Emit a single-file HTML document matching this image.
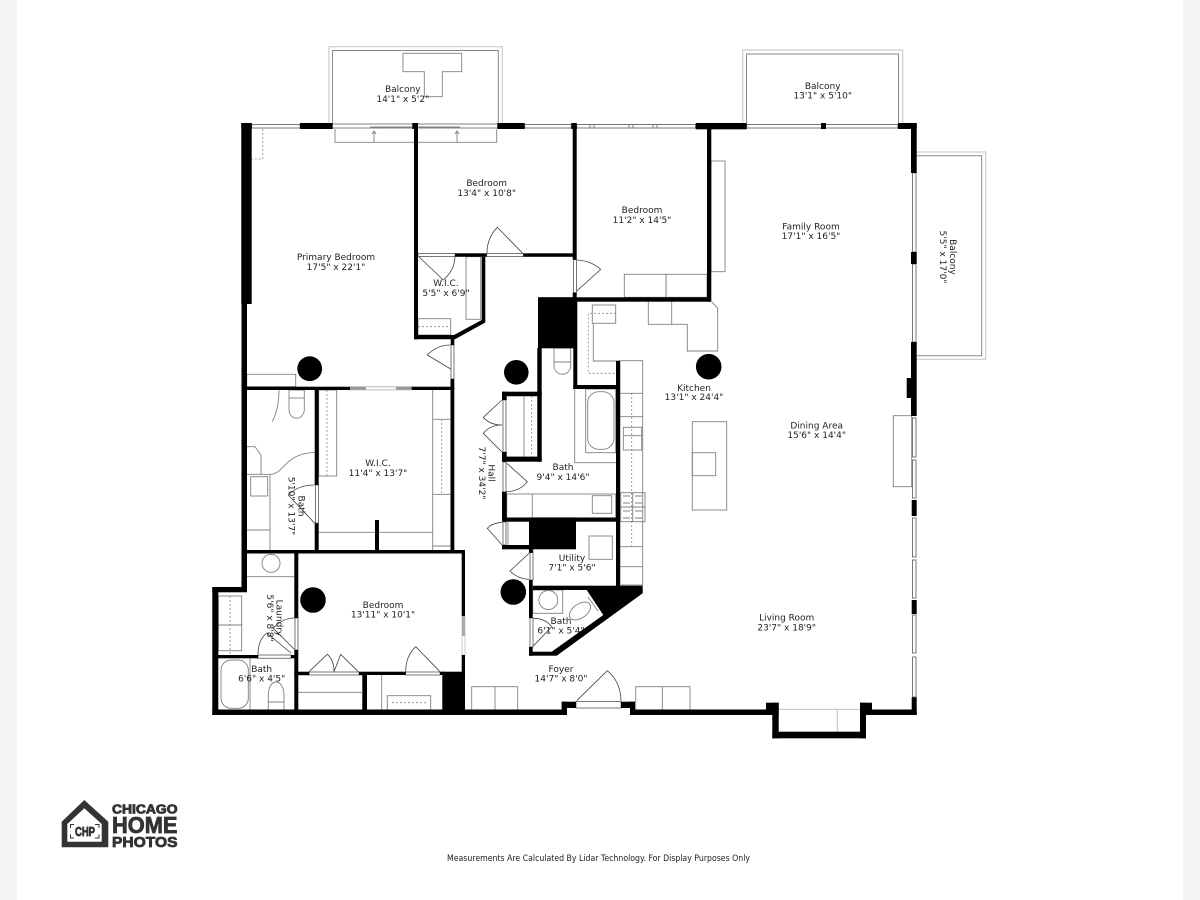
<!DOCTYPE html>
<html><head><meta charset="utf-8"><style>
html,body{margin:0;padding:0;width:1200px;height:900px;background:#fff;overflow:hidden}
svg{display:block}
.t text{font-family:"DejaVu Sans",sans-serif;font-size:9px;fill:#222;text-anchor:middle}
.g{fill:none;stroke:#808080;stroke-width:.9}
.d{fill:none;stroke:#888;stroke-width:.8;stroke-dasharray:2 2}
.l{fill:none;stroke:#444;stroke-width:.8}
</style></head><body>
<svg width="1200" height="900" viewBox="0 0 1200 900" xmlns="http://www.w3.org/2000/svg">
<rect width="1200" height="900" fill="#fff"/>
<rect x="0" y="0" width="17" height="900" fill="#f5f3f6"/>
<rect x="1183" y="0" width="17" height="900" fill="#f5f3f6"/>

<!-- balconies -->
<g fill="none">
<path d="M329 123V46.7H502.3V123" stroke="#ccc" stroke-width="1.2"/>
<path d="M332.5 123V50.5H498.3V123" stroke="#888"/>
<path d="M742.7 123V50H902.7V123" stroke="#ccc" stroke-width="1.2"/>
<path d="M746.5 123V54H898.5V123" stroke="#888"/>
<path d="M916.7 152H985.7V359.3H916.7" stroke="#ccc" stroke-width="1.2"/>
<path d="M916.7 155.7H981.7V355.7H916.7" stroke="#888"/>
</g>
<path class="g" d="M403 53.3H461.7V71.7H442.3V96.7H424.3V71.7H403Z"/>

<!-- furniture / fixtures -->
<g class="g">
<path d="M335 129.3V142.3H496.7V129.3M374 142V132M457 142V132M372 134L374 131L376 134M455 134L457 131L459 134"/>
<path d="M332.7 124H497.3M332.7 128H497.3M370 127H460"/>
<rect x="246.7" y="374.3" width="49" height="12.4"/>
<rect x="466" y="256.7" width="14.7" height="62.6"/>
<rect x="418" y="318.7" width="32.7" height="16.3"/>
<rect x="624.3" y="274.3" width="41.7" height="23"/>
<rect x="666" y="274.3" width="41" height="23"/>
<rect x="711" y="161" width="14" height="110.7"/>
<path d="M648.3 301.7V324.3H687.3V351H711M671.7 301.7V324.3M711.7 301.7L717.7 308.3V351H711"/>
<rect x="592.3" y="305" width="23.4" height="18.3"/>
<path d="M593.3 323.3V361H616"/>
<rect x="620" y="360.7" width="22.7" height="224.3"/>
<path d="M620 393.3H642.7M620 416.7H642.7M620 546.7H642.7M620 566.7H642.7"/>
<rect x="623.3" y="427.3" width="18.4" height="22.7"/><path d="M623.3 435.7H641.7"/>
<rect x="620.7" y="492.7" width="24.3" height="29"/>
<path d="M632.7 492.7V521.7M620.7 507H645M623 496H630M635 496H642M623 503H630M635 503H642M623 511H630M635 511H642M623 518H630M635 518H642"/>
<rect x="585.7" y="389" width="30" height="63.7"/>
<rect x="587.7" y="391.7" width="26.3" height="57.6" rx="11"/>
<path d="M574.7 389V462.7H616"/>
<path d="M554 348H570.7V366C570 377 555 377 554 366Z"/><path d="M554 362H570.7"/>
<rect x="506.7" y="494" width="109" height="23.7"/><path d="M532.3 494V517.7"/>
<rect x="592.3" y="495.7" width="19.4" height="17.6"/>
<path d="M524 396V456.7M508 522V545M506.7 396H537M506.7 457H537"/>
<rect x="589" y="536" width="23.3" height="23.3"/>
<rect x="532.7" y="590" width="30" height="23.3"/>
<circle cx="548.3" cy="600" r="9.5"/>
<ellipse cx="580" cy="611" rx="12" ry="7" transform="rotate(-35 580 611)"/>
<path d="M588 597L598 611"/>
<rect x="471.7" y="686.7" width="46" height="23.3"/><path d="M495 686.7V710"/>
<rect x="635.7" y="686.7" width="54.3" height="23.3"/><path d="M662.3 686.7V710"/>
<rect x="692.3" y="421.7" width="34.4" height="88.3"/>
<rect x="692.3" y="452.7" width="23.4" height="23"/>
<rect x="893.3" y="415.7" width="18.4" height="71"/>
<path d="M778 709.3H860M837.3 709V732" stroke="#bbb"/>
<path d="M289 390H304.3V410C303 421 290 421 289 410Z"/><path d="M289 398H304.3"/>
<path d="M247 446.7H255L261 455V474.3M247 474.3H270C285 474 283 454 314.7 452.3M270 474V550M247 530H270"/>
<rect x="250.7" y="476.7" width="17" height="19.3"/>
<path d="M272.3 421.7C277 412 279 400 279 390"/>
<rect x="318.7" y="390" width="18" height="86"/>
<path d="M432.7 390V546H450.3M432.7 419.3H450.3M432.7 494.3H450.3M318.7 532.3H432.7V550"/>
<path d="M247 576.7H294M362 675H298"/>
<circle cx="271" cy="563.3" r="9"/>
<rect x="218.3" y="596" width="23.4" height="29"/>
<rect x="218.3" y="625" width="23.4" height="25.7"/>
<rect x="221" y="660" width="27.3" height="48.3" rx="10"/>
<path d="M250 658V710"/>
<path d="M268.3 710V694C269 678 283 678 284 694V710M268.3 702H284"/>
<path d="M298 692.3H362"/>
<path d="M381.7 675V710"/>
<rect x="387.3" y="695.7" width="43.4" height="14.3"/>
</g>
<g class="d">
<path d="M262.7 129V159H251.7"/><path d="M418 326.7H450.7"/>
<path d="M616 313.3H588.3V373.3H616"/>
<path d="M631.7 393V546"/><path d="M531.7 396V456.7"/>
<path d="M327 390V476"/><path d="M441.7 419V494"/>
<path d="M230 596V655"/><path d="M392 702.7H428"/>
</g>

<!-- doors -->
<g class="l">
<path d="M522.7 253.3L497.3 227.3Q487 238 487 253"/>
<path d="M418 256L443.3 280Q455 270 455 256"/>
<path d="M450.7 369L427.3 355Q437 345 450.7 345"/>
<path d="M575 292.7L600.7 269.3Q590 260 575 260"/>
<path d="M502 400L483.3 417.3Q490 425 502 425"/>
<path d="M502 452L483.3 433.3Q490 425 502 425"/>
<path d="M506.7 463.3L527.3 481.7Q520 491 506.7 491.7"/>
<path d="M502 522.3Q492 523 487.3 528.3L502 545"/>
<path d="M529 553.3L510 571Q518 579 529 579.3"/>
<path d="M532.7 646.7L551.7 626.7Q545 618 532.7 618.3"/>
<path d="M576.7 700.7L607.3 670.7Q621 682 621 701.7"/>
<path d="M314.7 523.3L288.3 495Q298 485 314.7 485"/>
<path d="M291 653L266.7 633Q258 640 258 655"/>
<path d="M295 650L273.3 628.3Q282 618 295 618"/>
<path d="M309 671.7L327.3 654.3Q334 660 334 671.7L340.7 654.3L358.3 671.7"/>
<path d="M440 671.7L415.7 646.7Q405.7 656 405.7 671.7"/>
</g>

<!-- windows / thresholds -->
<g fill="#fff" stroke="#777" stroke-width="1">
<rect x="251.7" y="124.5" width="48.3" height="3.5"/>
<rect x="524.7" y="124.5" width="46.6" height="3.5"/>
<rect x="576.7" y="124.5" width="119" height="3.5"/>
<path d="M590 124V128M594 124V128M629 124V128M633 124V128M653 124V128M657 124V128"/>
<rect x="746.7" y="124.5" width="151" height="3.5"/>
<rect x="418" y="253.5" width="37" height="3"/>
<rect x="486.7" y="253.5" width="36.6" height="3"/>
<rect x="451" y="345" width="3" height="34"/>
<rect x="573.5" y="259.7" width="3" height="33"/>
<rect x="350" y="386.8" width="61.7" height="3" stroke="#bbb"/>
<rect x="912.5" y="173" width="3.5" height="79"/>
<rect x="912.5" y="264" width="3.5" height="78"/>
<rect x="912.5" y="418" width="3.5" height="39"/><rect x="912.5" y="460" width="3.5" height="38"/>
<rect x="912.5" y="518" width="3.5" height="39"/><rect x="912.5" y="560" width="3.5" height="38"/>
<rect x="912.5" y="615" width="3.5" height="38"/><rect x="912.5" y="657" width="3.5" height="40"/>
<rect x="462" y="616" width="3" height="39" stroke="#ccc"/>
<rect x="295" y="618" width="3" height="32"/>
<rect x="315.5" y="485" width="3" height="38"/>
<rect x="503" y="400" width="3" height="52"/>
<rect x="503" y="462" width="3" height="30"/>
<rect x="503" y="522" width="3" height="23"/>
<rect x="530" y="550" width="3" height="30"/>
<rect x="530" y="618" width="3" height="29"/>
<rect x="576" y="701.5" width="45" height="6.5"/>
<rect x="309" y="672" width="50" height="3"/>
<rect x="405.7" y="672" width="34.3" height="3"/>
<rect x="258" y="655" width="33" height="3.3"/>
</g>
<rect x="350" y="386.8" width="16" height="3" fill="#999"/>
<rect x="396" y="386.8" width="15.7" height="3" fill="#999"/>
<rect x="462" y="616" width="3" height="20" fill="#aaa"/>

<!-- walls -->
<g fill="#000">
<rect x="241.3" y="123" width="10.4" height="181"/>
<rect x="241.3" y="123" width="10.4" height="6"/>
<rect x="241.5" y="304" width="5.5" height="288"/>
<rect x="212.3" y="587" width="34.7" height="5.3"/>
<rect x="212.3" y="587" width="6" height="128"/>
<rect x="212.3" y="709.5" width="354.7" height="5.5"/>
<rect x="561.7" y="701.7" width="14.3" height="6.3"/>
<rect x="561.7" y="701.7" width="5.3" height="13.3"/>
<rect x="621" y="701.7" width="14" height="6.3"/>
<rect x="630" y="709.5" width="142" height="5.5"/>
<rect x="630" y="701.7" width="5" height="13.3"/>
<rect x="766" y="702.7" width="12.7" height="12.3"/>
<rect x="772.3" y="702.7" width="6.4" height="35.6"/>
<rect x="772.3" y="731.7" width="93.7" height="6.6"/>
<rect x="860" y="702.7" width="6" height="35.6"/>
<rect x="860" y="702.7" width="12" height="12.3"/>
<rect x="866" y="709.5" width="50.7" height="5.5"/>
<rect x="911.7" y="697.3" width="5" height="17.7"/>
<rect x="911.7" y="600" width="5" height="14"/>
<rect x="911.7" y="500" width="5" height="16"/>
<rect x="911" y="342" width="5.7" height="74"/>
<rect x="906.7" y="378" width="5" height="20"/>
<rect x="911" y="123" width="5.7" height="50"/>
<rect x="911" y="252" width="5.7" height="12"/>
<rect x="898" y="123" width="18.7" height="6"/>
<rect x="821" y="123" width="5" height="6"/>
<rect x="695.7" y="123" width="51" height="6.3"/>
<rect x="497.3" y="123" width="27.4" height="6"/>
<rect x="300" y="123" width="32.7" height="6"/>
<rect x="412.3" y="123" width="5.4" height="6"/>
<rect x="571.3" y="123" width="5.4" height="6"/>
<rect x="707" y="123" width="4.3" height="178.7"/>
<rect x="538" y="297.3" width="173" height="4.4"/>
<rect x="538" y="297.3" width="37" height="51"/>
<rect x="572.7" y="123" width="4" height="136.7"/>
<rect x="572.7" y="292.7" width="4" height="6"/>
<rect x="414" y="123" width="4" height="216.3"/>
<rect x="455" y="253.3" width="31.7" height="3.5"/>
<rect x="523.3" y="253.3" width="49.7" height="3.5"/>
<polygon points="481.7,256.7 485.3,256.7 485.3,322.5 455,339.3 414,339.3 414,335 454,335 481.7,320"/>
<rect x="450.7" y="337" width="3.6" height="8"/>
<rect x="450.5" y="379" width="3.8" height="174"/>
<rect x="241.7" y="550" width="223.3" height="3.5"/>
<rect x="461.7" y="550" width="3.3" height="66"/>
<rect x="461.7" y="655" width="3.3" height="17"/>
<rect x="442.3" y="671.7" width="22.7" height="38"/>
<rect x="294.3" y="671.7" width="15" height="3.3"/>
<rect x="359" y="671.7" width="46.7" height="3.3"/>
<rect x="440" y="671.7" width="5" height="3.3"/>
<rect x="362.3" y="675" width="4.7" height="35"/>
<rect x="294.3" y="553" width="4" height="65"/>
<rect x="294.3" y="650" width="4" height="60"/>
<rect x="218" y="655" width="40" height="3.3"/>
<rect x="291" y="655" width="4" height="3.3"/>
<rect x="314.7" y="388" width="4" height="97"/>
<rect x="314.7" y="523.3" width="4" height="27"/>
<rect x="247" y="386.7" width="103" height="3.3"/>
<rect x="411.7" y="386.7" width="42.6" height="3.3"/>
<rect x="375" y="520" width="4" height="30"/>
<rect x="502" y="391.7" width="39.7" height="4.3"/>
<rect x="537.3" y="348" width="4.4" height="113.7"/>
<rect x="502" y="456.7" width="39.7" height="5"/>
<rect x="502" y="391.7" width="4.7" height="8.3"/>
<rect x="502" y="452" width="4.7" height="9.7"/>
<rect x="502" y="491.7" width="4.7" height="30"/>
<rect x="502" y="517.7" width="118" height="4"/>
<rect x="502" y="545" width="30.7" height="4.3"/>
<rect x="529" y="517.7" width="47" height="31.6"/>
<rect x="529" y="545" width="3.7" height="8"/>
<rect x="529" y="580" width="3.7" height="38"/>
<rect x="529" y="647" width="3.7" height="8.7"/>
<rect x="529" y="651.7" width="27.7" height="4"/>
<rect x="532.7" y="585.7" width="110" height="4.3"/>
<polygon points="586.7,590 642.7,590 642.7,593.3 556.7,655.7 551.7,651.7 603.3,615"/>
<rect x="616" y="360.7" width="4" height="229.3"/>
<rect x="573.3" y="385" width="46.7" height="4"/>
<rect x="573.3" y="298" width="4" height="91"/>
</g>

<!-- columns -->
<g fill="#000">
<circle cx="309.7" cy="368.7" r="12.4"/>
<circle cx="516.3" cy="372.3" r="12.3"/>
<circle cx="708.7" cy="366.7" r="12.8"/>
<circle cx="313" cy="600" r="12.8"/>
<circle cx="513.3" cy="592" r="12.8"/>
</g>

<!-- labels -->
<g class="t">
<text x="402.8" y="92">Balcony</text><text x="402.8" y="102">14'1" x 5'2"</text>
<text x="486.7" y="186">Bedroom</text><text x="486.7" y="196">13'4" x 10'8"</text>
<text x="336" y="260">Primary Bedroom</text><text x="336" y="270">17'5" x 22'1"</text>
<text x="446" y="286">W.I.C.</text><text x="446" y="296">5'5" x 6'9"</text>
<text x="642" y="213">Bedroom</text><text x="642" y="223">11'2" x 14'5"</text>
<text x="822.7" y="89">Balcony</text><text x="822.7" y="98.5">13'1" x 5'10"</text>
<text x="811" y="229.5">Family Room</text><text x="811" y="239">17'1" x 16'5"</text>
<text transform="translate(950 257) rotate(90)">Balcony</text>
<text transform="translate(940 257) rotate(90)">5'5" x 17'0"</text>
<text x="694" y="391">Kitchen</text><text x="694" y="400">13'1" x 24'4"</text>
<text x="816.7" y="428.5">Dining Area</text><text x="816.7" y="438">15'6" x 14'4"</text>
<text x="786.7" y="620.5">Living Room</text><text x="786.7" y="630.5">23'7" x 18'9"</text>
<text x="378" y="466">W.I.C.</text><text x="378" y="476">11'4" x 13'7"</text>
<text transform="translate(298.5 506) rotate(90)">Bath</text>
<text transform="translate(288.5 506) rotate(90)">5'10" x 13'7"</text>
<text transform="translate(276.5 618) rotate(90)">Laundry</text>
<text transform="translate(267 618) rotate(90)">5'6" x 8'8"</text>
<text x="261.7" y="672">Bath</text><text x="261.7" y="681.5">6'6" x 4'5"</text>
<text x="383" y="608">Bedroom</text><text x="383" y="617.5">13'11" x 10'1"</text>
<text transform="translate(488.5 473) rotate(90)">Hall</text>
<text transform="translate(479 473) rotate(90)">7'7" x 34'2"</text>
<text x="563" y="470">Bath</text><text x="563" y="480">9'4" x 14'6"</text>
<text x="572" y="561">Utility</text><text x="572" y="570.5">7'1" x 5'6"</text>
<text x="561" y="624">Bath</text><text x="561" y="633.5">6'1" x 5'4"</text>
<text x="561" y="672">Foyer</text><text x="561" y="681.5">14'7" x 8'0"</text>
<text x="598.5" y="861" style="font-size:8.4px" textLength="303" lengthAdjust="spacingAndGlyphs">Measurements Are Calculated By Lidar Technology. For Display Purposes Only</text>
</g>

<!-- logo -->
<path fill-rule="evenodd" fill="#333" d="M84.3 800L108.3 821.7V847.3H61.7V821.7ZM84.3 808.3L67.3 824V841.7H101.7V824Z"/>
<g fill="none" stroke="#333" stroke-width="1">
<path d="M74 824.5H70.5V828M95 824.5H99V828M74 838H70.5V834.5M95 838H99V834.5"/>
</g>
<g font-family="'Liberation Sans',sans-serif" font-weight="700" fill="#333" stroke="#333" stroke-width=".8">
<text x="75" y="836" font-size="12.5" textLength="20" lengthAdjust="spacingAndGlyphs">CHP</text>
<text x="112" y="813.5" font-size="12.5" textLength="65.5" lengthAdjust="spacingAndGlyphs">CHICAGO</text>
<text x="112" y="833" font-size="23.5" textLength="65.5" lengthAdjust="spacingAndGlyphs">HOME</text>
<text x="112" y="847" font-size="15" textLength="65.5" lengthAdjust="spacingAndGlyphs">PHOTOS</text>
</g>
</svg>
</body></html>
